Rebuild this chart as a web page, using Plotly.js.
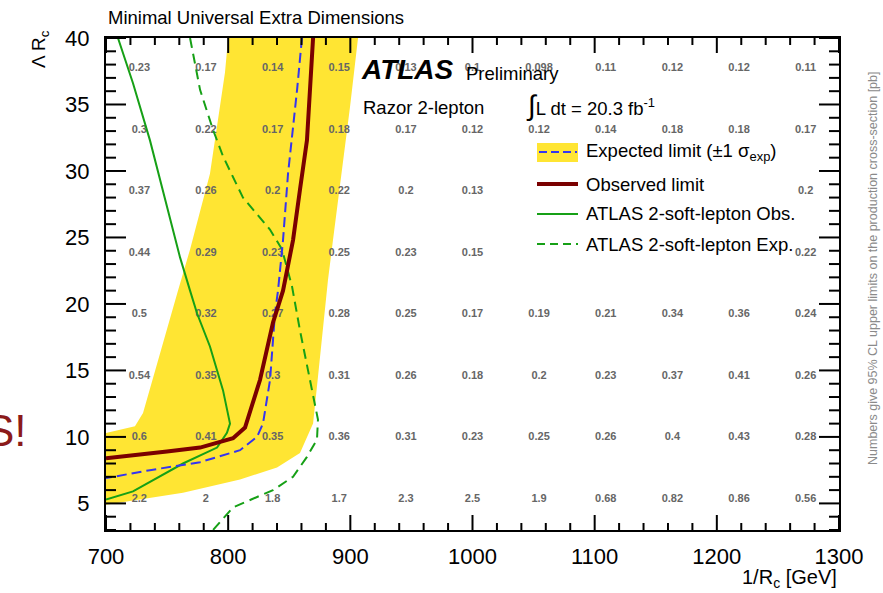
<!DOCTYPE html>
<html>
<head>
<meta charset="utf-8">
<script src="https://cdn.plot.ly/plotly-3.0.1.min.js"></script>
<style>html,body{margin:0;padding:0;background:#fff;}#chart{width:883px;height:593px;}</style>
</head>
<body>
<div id="chart"></div>
<script>
// ±1 sigma expected band (closed polygon)
const bandX = [800, 797.4, 785.1, 768.8, 758.9, 730.3, 723.7, 700.8, 700, 700, 763, 809.7, 840, 858.8, 869.5, 873.5, 881.7, 885.8, 899.7, 906.3];
const bandY = [40, 37.4, 29.8, 24.1, 21.0, 11.8, 10.8, 10.3, 10.3, 4.9, 5.8, 6.8, 7.7, 8.8, 11.0, 14.5, 21.8, 24.8, 34.8, 40];

const obsX = [869.5, 864.5, 858.8, 853.1, 844.9, 836.7, 826.1, 813.8, 804, 777, 749.9, 700];
const obsY = [40, 32.3, 28.6, 24.8, 21.0, 18.6, 14.3, 10.7, 9.9, 9.2, 8.9, 8.4];

const expX = [860.4, 856.4, 849, 844.9, 840.8, 838.3, 834.3, 828.5, 823.6, 809.7, 777, 736, 700];
const expY = [40, 36.1, 29.8, 24.8, 21.0, 19.3, 14.3, 11.0, 10.0, 9.0, 8.1, 7.5, 6.9];

const softObsX = [709.8, 722.1, 736, 749.9, 760.6, 768.8, 774.5, 785.1, 795.8, 801.5, 799, 790.9, 763, 722.1, 700];
const softObsY = [40, 36.6, 32.3, 27.3, 23.5, 21.0, 19.3, 16.8, 13.5, 11.0, 10.3, 9.2, 8.0, 5.9, 5.3];

const softExpX = [768.8, 777, 787.6, 795.8, 812.1, 834.2, 844.1, 852.3, 858.8, 869.5, 873.5, 872.7, 864.5, 853.1, 836.7, 804, 789.2, 787.6];
const softExpY = [40, 36.1, 33.1, 31.1, 28.0, 25.6, 24.1, 21.3, 18.0, 13.0, 11.3, 9.8, 8.5, 7.0, 6.0, 4.7, 3.2, 3.0];

// cross-section upper limits grid [pb]
const gridX = [727.3, 781.8, 836.4, 890.9, 945.5, 1000, 1054.5, 1109.1, 1163.6, 1218.2, 1272.7];
const gridY = [37.69, 33.06, 28.44, 23.81, 19.19, 14.56, 9.94, 5.31];
const gridVals = [
  ["0.23","0.17","0.14","0.15","0.13","0.1","0.098","0.11","0.12","0.12","0.11"],
  ["0.3","0.22","0.17","0.18","0.17","0.12","0.12","0.14","0.18","0.18","0.17"],
  ["0.37","0.26","0.2","0.22","0.2","0.13",null,null,null,null,"0.2"],
  ["0.44","0.29","0.23","0.25","0.23","0.15",null,null,null,null,"0.22"],
  ["0.5","0.32","0.27","0.28","0.25","0.17","0.19","0.21","0.34","0.36","0.24"],
  ["0.54","0.35","0.3","0.31","0.26","0.18","0.2","0.23","0.37","0.41","0.26"],
  ["0.6","0.41","0.35","0.36","0.31","0.23","0.25","0.26","0.4","0.43","0.28"],
  ["2.2","2","1.8","1.7","2.3","2.5","1.9","0.68","0.82","0.86","0.56"]
];

// axis tick positions
const xMajor = [700, 800, 900, 1000, 1100, 1200, 1300];
const xMinor = [720, 740, 760, 780, 820, 840, 860, 880, 920, 940, 960, 980, 1020, 1040, 1060, 1080, 1120, 1140, 1160, 1180, 1220, 1240, 1260, 1280];
const yMajor = [5, 10, 15, 20, 25, 30, 35, 40];
const yMinor = [3, 4, 6, 7, 8, 9, 11, 12, 13, 14, 16, 17, 18, 19, 21, 22, 23, 24, 26, 27, 28, 29, 31, 32, 33, 34, 36, 37, 38, 39];

const legendLabels = ["Expected limit (±1 σ<sub>exp</sub>)", "Observed limit", "ATLAS 2-soft-lepton Obs.", "ATLAS 2-soft-lepton Exp."];

const YELLOW = '#FFE533', BLUE = '#3535F0', RED = '#7A0000', GREEN = '#16A016';
const FONT = 'Liberation Sans, Arial, Helvetica, sans-serif';
const X_RANGE = [700, 1300], Y_RANGE = [3, 40];
const PW = 733, PH = 492; // plot area in pixels

const tx = [], ty = [], tt = [];
gridY.forEach((y, j) => gridX.forEach((x, i) => {
  const v = gridVals[j][i];
  if (v !== null) { tx.push(x); ty.push(y); tt.push(v); }
}));

// tick marks on all four sides (pixel lengths converted through the axis scales)
const kx = (X_RANGE[1] - X_RANGE[0]) / PW, ky = (Y_RANGE[1] - Y_RANGE[0]) / PH;
const tickX = [], tickY = [];
function xTick(v, len) {
  tickX.push(v, v, null, v, v, null);
  tickY.push(Y_RANGE[0], Y_RANGE[0] + len * ky, null, Y_RANGE[1], Y_RANGE[1] - len * ky, null);
}
function yTick(v, len) {
  tickX.push(X_RANGE[0], X_RANGE[0] + len * kx, null, X_RANGE[1], X_RANGE[1] - len * kx, null);
  tickY.push(v, v, null, v, v, null);
}
xMajor.forEach(v => xTick(v, 15));
xMinor.forEach(v => xTick(v, 7));
yMajor.forEach(v => yTick(v, 20));
yMinor.forEach(v => yTick(v, 10));

const traces = [
  {x: bandX, y: bandY, mode: 'lines', fill: 'toself', fillcolor: YELLOW, line: {width: 0}, hoverinfo: 'skip', showlegend: false},
  {x: tx, y: ty, text: tt, mode: 'text', textfont: {family: FONT, size: 11, color: '#666666', weight: 'bold'}, hoverinfo: 'skip', showlegend: false},
  {x: softObsX, y: softObsY, mode: 'lines', line: {color: GREEN, width: 2}, showlegend: false},
  {x: softExpX, y: softExpY, mode: 'lines', line: {color: GREEN, width: 2, dash: '10px,6px'}, showlegend: false},
  {x: expX, y: expY, mode: 'lines', line: {color: BLUE, width: 2, dash: '10px,5px'}, showlegend: false},
  {x: obsX, y: obsY, mode: 'lines', line: {color: RED, width: 4}, showlegend: false},
  {x: tickX, y: tickY, mode: 'lines', line: {color: '#000', width: 2}, connectgaps: false, hoverinfo: 'skip', showlegend: false, cliponaxis: false}
];

const px = p => (p - 106) / PW;
const py = p => (530 - p) / PH;

const legRows = [152, 184, 214, 244];
const shapes = [
  {type: 'rect', xref: 'paper', yref: 'paper', x0: px(537), x1: px(578), y0: py(162), y1: py(143), fillcolor: YELLOW, line: {width: 0}},
  {type: 'line', xref: 'paper', yref: 'paper', x0: px(539), x1: px(577), y0: py(152), y1: py(152), line: {color: BLUE, width: 2, dash: '8px,4px'}},
  {type: 'line', xref: 'paper', yref: 'paper', x0: px(537), x1: px(578), y0: py(184), y1: py(184), line: {color: RED, width: 4}},
  {type: 'line', xref: 'paper', yref: 'paper', x0: px(537), x1: px(578), y0: py(214), y1: py(214), line: {color: GREEN, width: 2}},
  {type: 'line', xref: 'paper', yref: 'paper', x0: px(537), x1: px(578), y0: py(244), y1: py(244), line: {color: GREEN, width: 2, dash: '8px,5px'}}
];

const annotations = [
  {text: 'Minimal Universal Extra Dimensions', xref: 'paper', yref: 'paper', x: px(106), y: py(18), xanchor: 'left', yanchor: 'middle', showarrow: false, font: {family: FONT, size: 18.5, color: '#000'}},
  {text: '<b><i>ATLAS</i></b>', xref: 'paper', yref: 'paper', x: px(359), y: py(69), xanchor: 'left', yanchor: 'middle', showarrow: false, font: {family: FONT, size: 28, color: '#000'}},
  {text: 'Preliminary', xref: 'paper', yref: 'paper', x: px(464), y: py(73), xanchor: 'left', yanchor: 'middle', showarrow: false, font: {family: FONT, size: 18.5, color: '#000'}},
  {text: 'Razor 2-lepton', xref: 'paper', yref: 'paper', x: px(361), y: py(107), xanchor: 'left', yanchor: 'middle', showarrow: false, font: {family: FONT, size: 18.5, color: '#000'}},
  {text: '<span style="font-size:28px">∫</span>L dt = 20.3 fb<sup>-1</sup>', xref: 'paper', yref: 'paper', x: px(524), y: py(105), xanchor: 'left', yanchor: 'middle', showarrow: false, font: {family: FONT, size: 18.5, color: '#000'}},
  {text: 'Λ R<sub>c</sub>', xref: 'paper', yref: 'paper', x: px(40), y: py(28), xanchor: 'center', yanchor: 'top', textangle: -90, showarrow: false, font: {family: FONT, size: 19, color: '#000'}},
  {text: '1/R<sub>c</sub> [GeV]', xref: 'paper', yref: 'paper', x: 1, y: py(578), xanchor: 'right', yanchor: 'middle', showarrow: false, font: {family: FONT, size: 20, color: '#000'}},
  {text: 'Numbers give 95% CL upper limits on the production cross-section [pb]', xref: 'paper', yref: 'paper', x: px(873), y: py(268), xanchor: 'center', yanchor: 'middle', textangle: -90, showarrow: false, font: {family: FONT, size: 12.5, color: '#8a8a8a'}},
  {text: 'S!', xref: 'paper', yref: 'paper', x: px(29), y: py(430), xanchor: 'right', yanchor: 'middle', showarrow: false, font: {family: FONT, size: 44, color: '#8B1A1A'}}
];
legendLabels.forEach((t, i) => annotations.push({
  text: t, xref: 'paper', yref: 'paper', x: px(584), y: py(legRows[i]), xanchor: 'left', yanchor: 'middle', showarrow: false,
  font: {family: FONT, size: 18.5, color: '#000'}
}));

const layout = {
  width: 883, height: 593,
  margin: {l: 106, r: 44, t: 38, b: 63, pad: 0},
  paper_bgcolor: '#fff', plot_bgcolor: '#fff',
  showlegend: false,
  font: {family: FONT, color: '#000'},
  xaxis: {
    range: X_RANGE, tickmode: 'array', tickvals: xMajor, ticktext: xMajor.map(String),
    ticks: '', showline: true, linecolor: '#000', linewidth: 2, mirror: true,
    showgrid: false, zeroline: false, ticklabelstandoff: 6,
    tickfont: {family: FONT, size: 22, color: '#000'}
  },
  yaxis: {
    range: Y_RANGE, tickmode: 'array', tickvals: yMajor, ticktext: yMajor.map(String),
    ticks: '', showline: true, linecolor: '#000', linewidth: 2, mirror: true,
    showgrid: false, zeroline: false, ticklabelstandoff: 10,
    tickfont: {family: FONT, size: 22, color: '#000'}
  },
  shapes: shapes,
  annotations: annotations
};

Plotly.newPlot('chart', traces, layout, {displayModeBar: false, staticPlot: true});
</script>
</body>
</html>
